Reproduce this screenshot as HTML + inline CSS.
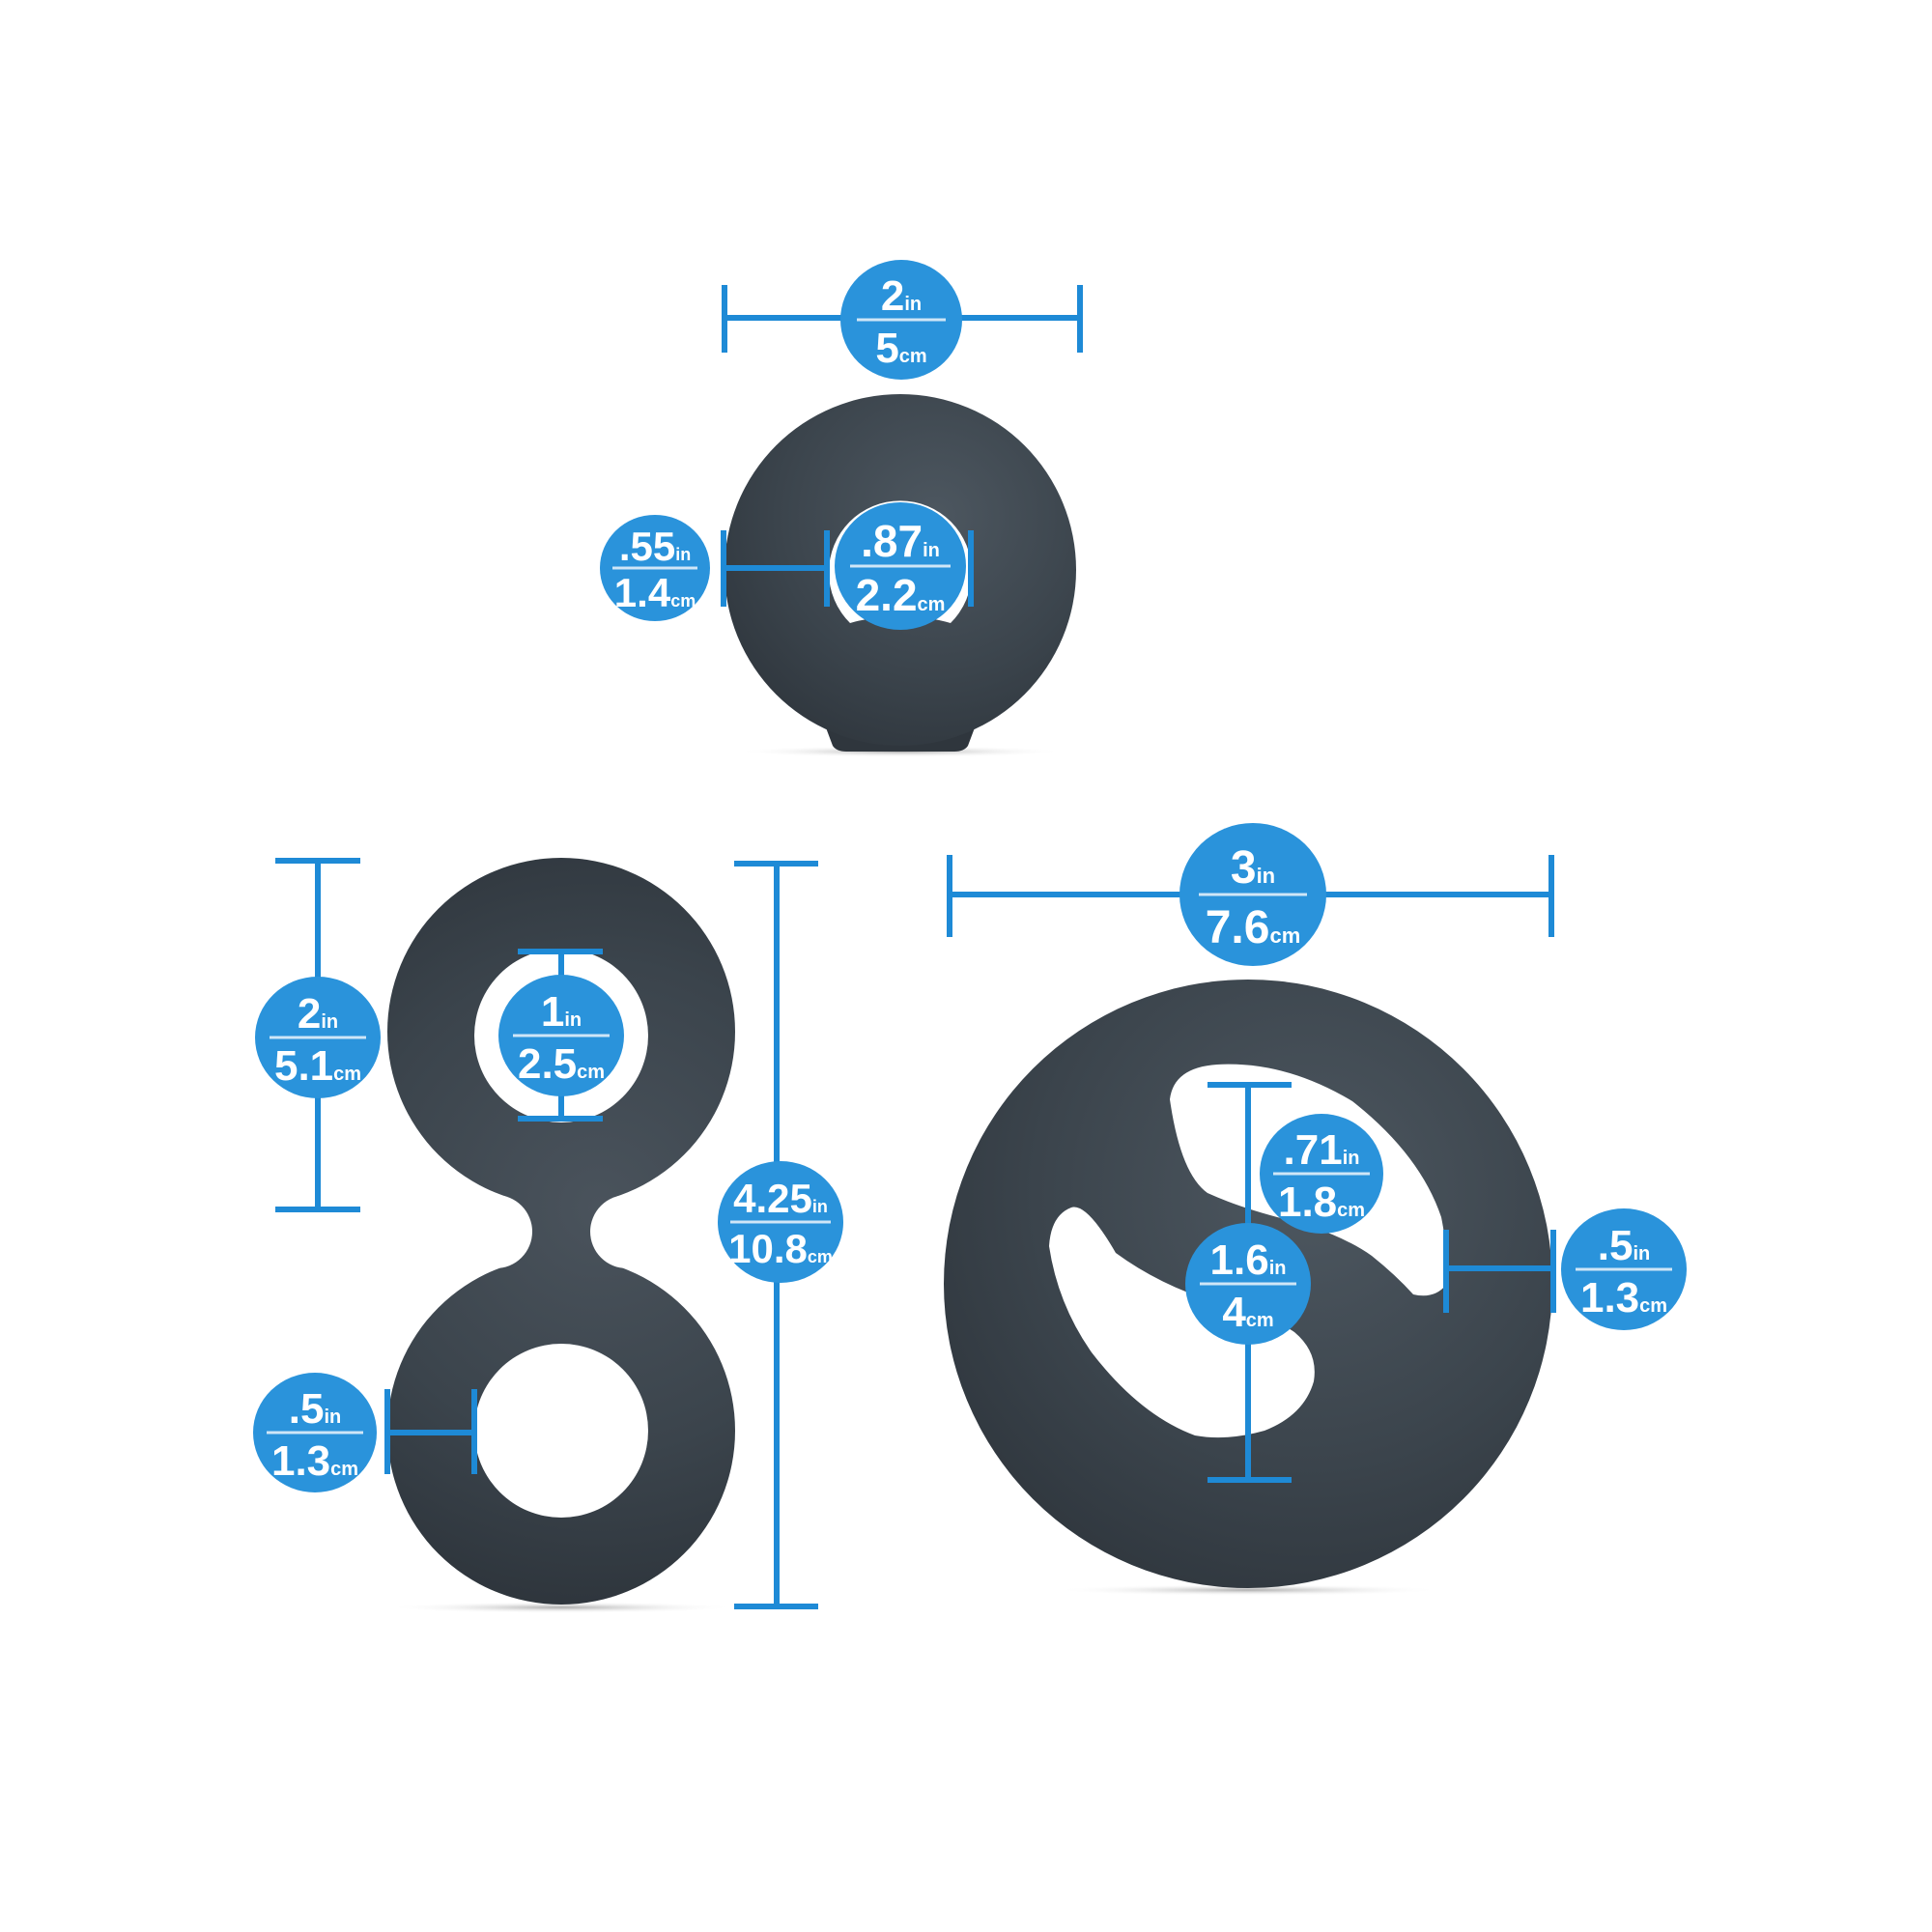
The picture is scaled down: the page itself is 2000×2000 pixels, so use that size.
<!DOCTYPE html>
<html><head><meta charset="utf-8"><style>
html,body{margin:0;padding:0;background:#fff;width:2000px;height:2000px;overflow:hidden}
svg{display:block}
.t{font-family:"Liberation Sans Narrow","Liberation Sans",sans-serif;font-weight:bold;fill:#fff}
</style></head><body>
<svg width="2000" height="2000" viewBox="0 0 2000 2000" xmlns="http://www.w3.org/2000/svg">
<defs>
<radialGradient id="rg" cx="0.6" cy="0.35" r="0.75">
<stop offset="0" stop-color="#4d5760"/><stop offset="0.6" stop-color="#3b444c"/><stop offset="1" stop-color="#2e353c"/>
</radialGradient>
<radialGradient id="rg8" gradientUnits="userSpaceOnUse" cx="620" cy="1250" r="420">
<stop offset="0" stop-color="#4a535c"/><stop offset="0.6" stop-color="#3b444c"/><stop offset="1" stop-color="#2e353c"/>
</radialGradient>
<radialGradient id="sh" cx="0.5" cy="0.5" r="0.5">
<stop offset="0" stop-color="#999" stop-opacity="0.8"/><stop offset="1" stop-color="#fff" stop-opacity="0"/>
</radialGradient>
</defs>

<ellipse cx="932" cy="778" rx="170" ry="6" fill="url(#sh)"/>
<ellipse cx="581" cy="1664" rx="180" ry="6" fill="url(#sh)"/>
<ellipse cx="1292" cy="1646" rx="200" ry="6" fill="url(#sh)"/>

<!-- top ring -->
<path d="M850,740 L862,772 Q866,778 876,778 L988,778 Q998,778 1002,772 L1014,740 Z" fill="#2f363d"/>
<circle cx="932" cy="590" r="182" fill="url(#rg)"/>
<path d="M880,645 A74,74 0 1 1 984,645 Q960,638 932,638 Q904,638 880,645 Z" fill="#fff"/>

<!-- figure 8 -->
<g fill="url(#rg8)">
<circle cx="581" cy="1068" r="180"/>
<circle cx="581" cy="1481" r="180"/>
<rect x="524" y="1236" width="114" height="78"/>
</g>
<circle cx="649" cy="1275" r="38" fill="#fff"/>
<circle cx="513" cy="1275" r="38" fill="#fff"/>
<circle cx="581" cy="1072" r="90" fill="#fff"/>
<circle cx="581" cy="1481" r="90" fill="#fff"/>

<!-- big ring -->
<circle cx="1292" cy="1329" r="315" fill="url(#rg)"/>
<path fill="#fff" d="M1211,1138 Q1215,1105 1260,1102 Q1330,1098 1400,1140 Q1470,1195 1492,1260 Q1500,1300 1497,1330 Q1485,1345 1463,1340 Q1445,1320 1420,1300 Q1386,1276 1330,1262 Q1283,1250 1250,1235 Q1222,1215 1211,1138 Z"/>
<path fill="#fff" d="M1109,1250 Q1125,1245 1155,1297 Q1200,1330 1258,1348 Q1320,1365 1340,1379 Q1365,1400 1360,1430 Q1350,1465 1309,1481 Q1270,1492 1237,1486 Q1180,1465 1130,1400 Q1095,1350 1086,1290 Q1088,1258 1109,1250 Z"/>

<g stroke="#1e8ad6" stroke-width="6" fill="none">
<path d="M750,329H1118M750,295V365M1118,295V365"/>
<path d="M749,588H856M749,549V628M856,549V628M1005,549V628"/>
<path d="M329,891V1252M285,891H373M285,1252H373"/>
<path d="M581,985V1158M536,985H624M536,1158H624"/>
<path d="M401,1483H491M401,1438V1526M491,1438V1526"/>
<path d="M804,894V1663M760,894H847M760,1663H847"/>
<path d="M983,926H1606M983,885V970M1606,885V970"/>
<path d="M1292,1123V1532M1250,1123H1337M1250,1532H1337"/>
<path d="M1497,1313H1608M1497,1273V1359M1608,1273V1359"/>
</g>

<g>
<g transform="translate(933,331)"><ellipse rx="63" ry="62" fill="#2a93db"/><line x1="-46" x2="46" y1="0" y2="0" stroke="#cfe6f7" stroke-width="3"/><text class="t" y="-10" text-anchor="middle" font-size="44">2<tspan font-size="20">in</tspan></text><text class="t" y="44" text-anchor="middle" font-size="44">5<tspan font-size="20">cm</tspan></text></g>
<g transform="translate(678,588)"><ellipse rx="57" ry="55" fill="#2a93db"/><line x1="-44" x2="44" y1="0" y2="0" stroke="#cfe6f7" stroke-width="3"/><text class="t" y="-8" text-anchor="middle" font-size="42">.55<tspan font-size="18">in</tspan></text><text class="t" y="40" text-anchor="middle" font-size="42">1.4<tspan font-size="18">cm</tspan></text></g>
<g transform="translate(932,586)"><ellipse rx="68" ry="66" fill="#2a93db"/><line x1="-52" x2="52" y1="0" y2="0" stroke="#cfe6f7" stroke-width="3"/><text class="t" y="-10" text-anchor="middle" font-size="46">.87<tspan font-size="20">in</tspan></text><text class="t" y="46" text-anchor="middle" font-size="46">2.2<tspan font-size="20">cm</tspan></text></g>
<g transform="translate(329,1074)"><ellipse rx="65" ry="63" fill="#2a93db"/><line x1="-50" x2="50" y1="0" y2="0" stroke="#cfe6f7" stroke-width="3"/><text class="t" y="-10" text-anchor="middle" font-size="44">2<tspan font-size="20">in</tspan></text><text class="t" y="44" text-anchor="middle" font-size="44">5.1<tspan font-size="20">cm</tspan></text></g>
<g transform="translate(581,1072)"><ellipse rx="65" ry="63" fill="#2a93db"/><line x1="-50" x2="50" y1="0" y2="0" stroke="#cfe6f7" stroke-width="3"/><text class="t" y="-10" text-anchor="middle" font-size="44">1<tspan font-size="20">in</tspan></text><text class="t" y="44" text-anchor="middle" font-size="44">2.5<tspan font-size="20">cm</tspan></text></g>
<g transform="translate(326,1483)"><ellipse rx="64" ry="62" fill="#2a93db"/><line x1="-50" x2="50" y1="0" y2="0" stroke="#cfe6f7" stroke-width="3"/><text class="t" y="-10" text-anchor="middle" font-size="44">.5<tspan font-size="20">in</tspan></text><text class="t" y="44" text-anchor="middle" font-size="44">1.3<tspan font-size="20">cm</tspan></text></g>
<g transform="translate(808,1265)"><ellipse rx="65" ry="63" fill="#2a93db"/><line x1="-52" x2="52" y1="0" y2="0" stroke="#cfe6f7" stroke-width="3"/><text class="t" y="-10" text-anchor="middle" font-size="42">4.25<tspan font-size="18">in</tspan></text><text class="t" y="42" text-anchor="middle" font-size="42">10.8<tspan font-size="18">cm</tspan></text></g>
<g transform="translate(1297,926)"><ellipse rx="76" ry="74" fill="#2a93db"/><line x1="-56" x2="56" y1="0" y2="0" stroke="#cfe6f7" stroke-width="3"/><text class="t" y="-12" text-anchor="middle" font-size="48">3<tspan font-size="22">in</tspan></text><text class="t" y="50" text-anchor="middle" font-size="48">7.6<tspan font-size="22">cm</tspan></text></g>
<g transform="translate(1368,1215)"><ellipse rx="64" ry="62" fill="#2a93db"/><line x1="-50" x2="50" y1="0" y2="0" stroke="#cfe6f7" stroke-width="3"/><text class="t" y="-10" text-anchor="middle" font-size="44">.71<tspan font-size="20">in</tspan></text><text class="t" y="44" text-anchor="middle" font-size="44">1.8<tspan font-size="20">cm</tspan></text></g>
<g transform="translate(1292,1329)"><ellipse rx="65" ry="63" fill="#2a93db"/><line x1="-50" x2="50" y1="0" y2="0" stroke="#cfe6f7" stroke-width="3"/><text class="t" y="-10" text-anchor="middle" font-size="44">1.6<tspan font-size="20">in</tspan></text><text class="t" y="44" text-anchor="middle" font-size="44">4<tspan font-size="20">cm</tspan></text></g>
<g transform="translate(1681,1314)"><ellipse rx="65" ry="63" fill="#2a93db"/><line x1="-50" x2="50" y1="0" y2="0" stroke="#cfe6f7" stroke-width="3"/><text class="t" y="-10" text-anchor="middle" font-size="44">.5<tspan font-size="20">in</tspan></text><text class="t" y="44" text-anchor="middle" font-size="44">1.3<tspan font-size="20">cm</tspan></text></g>
</g>
</svg>
</body></html>
